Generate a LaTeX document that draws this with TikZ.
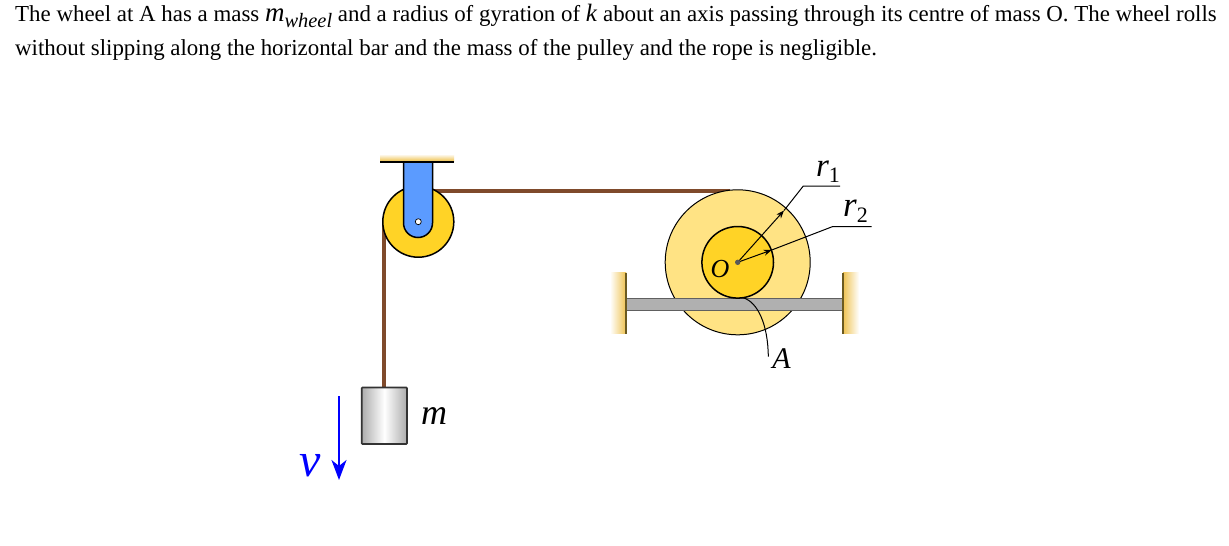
\documentclass[tikz,border=0pt]{standalone}
\usepackage{fontspec}
\setmainfont{Liberation Serif}
\usetikzlibrary{arrows.meta,calc}
\definecolor{rope}{HTML}{7F4A2B}
\definecolor{wheelpale}{HTML}{FFE384}
\definecolor{wheeldeep}{HTML}{FFD326}
\definecolor{bracket}{HTML}{5B9BFF}
\definecolor{barfill}{HTML}{B0B0B0}
\definecolor{wallgold}{HTML}{EFC352}
\definecolor{walledge}{HTML}{6B5A20}
\newcommand{\fs}[1]{\fontsize{#1}{#1}\selectfont}
\newcommand{\labelsub}[2]{\textit{#1}\raisebox{-0.18em}{\fs{22}#2}}
\tikzset{
  ropeline/.style={draw=rope,line width=4.5pt},
  part/.style={draw=black,line width=1.5pt},
  leader/.style={draw=black,line width=1pt},
  ptr/.style={leader,-{Stealth[length=8pt,width=6pt]}},
  bodytext/.style={anchor=base west,inner sep=0pt,font=\fs{22.9}},
  lab/.style={inner sep=0pt,font=\fs{30}},
}
\begin{document}
\begin{tikzpicture}[x=1pt,y=-1pt]
\useasboundingbox (0,0) rectangle (1229,546);
\fill[white] (0,0) rectangle (1229,546);
\node[bodytext] (line1) at (15,21.5) {The wheel at A has a mass {\fs{27}\textit{m}}\raisebox{-0.25em}{\fs{20.4}\textit{wheel}} and a radius of gyration of {\fs{25}\textit{k}} about an axis passing through its centre of mass O. The wheel rolls};
\node[bodytext] (line2) at (15,55.5) {without slipping along the horizontal bar and the mass of the pulley and the rope is negligible.};
% named points
\coordinate (pc) at (418.3,221.7);
\coordinate (O) at (737.7,262.3);
\coordinate (ropeEnd) at (730,191);
\coordinate (ropeCorner) at (418,191);
\coordinate (ropeLeft) at (384,222);
\coordinate (ropeDown) at (384,388);
\coordinate (r1a) at (784,210.5);
\coordinate (r1b) at (803.3,186);
\coordinate (r1c) at (840,186);
\coordinate (r2a) at (771.7,250);
\coordinate (r2b) at (832.3,226.7);
\coordinate (r2c) at (871.7,226.7);
\coordinate (Acontact) at (743,297.7);
\coordinate (Aend) at (768.3,356.7);
\coordinate (vtop) at (339,396);
\coordinate (vtip) at (339,480);
% ropes
\draw[ropeline] (ropeCorner) -- (ropeEnd);
\draw[ropeline] (ropeLeft) -- (ropeDown);
% ceiling
\shade[top color=white,bottom color=wallgold] (380,154) rectangle (454,161);
\draw[black,line width=2pt] (380,162) -- (454,162);
% pulley
\draw[part,fill=wheeldeep] (pc) circle[radius=35.5];
\draw[part,fill=bracket] (403.5,163) -- (403.5,223) arc[start angle=180,end angle=360,radius=14.5,y radius=-14.5] -- (432.5,163);
\draw[black,line width=0.7pt,fill=white] (pc) circle[radius=3];
% block
\draw[black!80,line width=1.7pt,left color=gray!65,right color=gray!65,middle color=white,rounded corners=0.8pt] (361.7,387.5) rectangle (407,444);
\node[lab,font=\fs{36}] (m) at (434,416.5) {\textit{m}};
% velocity
\draw[blue,line width=2pt,-{Stealth[length=20pt,width=15pt,inset=6pt]}] (vtop) -- (vtip);
\node[lab,text=blue,font=\fs{48}] (v) at (310,466) {\textit{v}};
% wheel
\draw[leader,fill=wheelpale] (O) circle[radius=72.5];
% walls
\shade[left color=white,right color=wallgold] (610,272.7) rectangle (626,333.7);
\shade[right color=white,left color=wallgold] (843,272.7) rectangle (859,333.7);
% bar
\draw[draw=gray!75!black,fill=barfill,line width=0.8pt] (626,298.6) rectangle (842.6,310.4);
\draw[walledge,line width=1.2pt] (626,272.7) -- (626,333.7);
\draw[walledge,line width=1.2pt] (843,272.7) -- (843,333.7);
% hub
\draw[part,fill=wheeldeep] (O) circle[radius=35.8];
% leaders
\draw[ptr] (O) -- (r1a);
\draw[leader] (r1a) -- (r1b) -- (r1c);
\draw[ptr] (O) -- (r2a);
\draw[leader] (r2a) -- (r2b) -- (r2c);
\fill[gray!70!black] (O) circle[radius=2.7];
\draw[black,line width=1pt] (Acontact) .. controls (758,302) and (768,325) .. (Aend);
% labels
\node[lab,font=\fs{26}] (Olab) at (720,269.5) {\textit{O}};
\node[lab] (Alab) at (781.7,358.5) {\textit{A}};
\node[lab,font=\fs{33}] (r1lab) at (828,172) {\labelsub{r}{1}};
\node[lab,font=\fs{35}] (r2lab) at (855.5,211.5) {\labelsub{r}{2}};
\end{tikzpicture}
\end{document}
